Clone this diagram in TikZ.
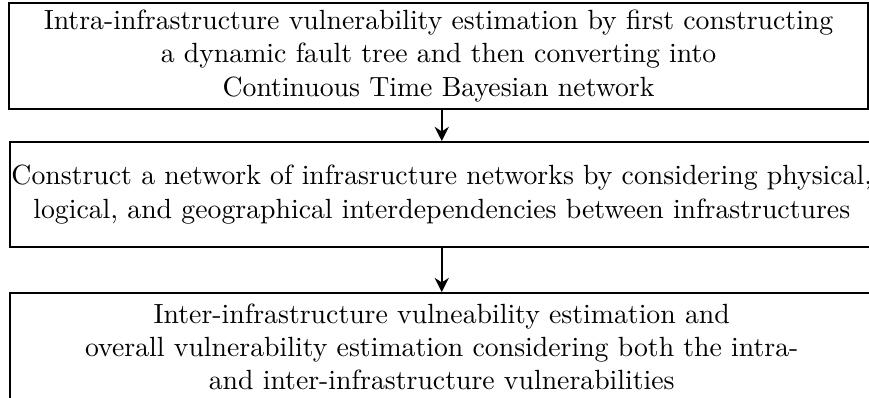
\documentclass[tikz,border=0pt]{standalone}
\usepackage{tikz}
\usetikzlibrary{arrows.meta}

\begin{document}
\begin{tikzpicture}[
    stage/.style = {draw, line width=0.7pt, align=center, inner sep=0pt,
                    font=\fontsize{9.8pt}{11.7pt}\selectfont},
    flow/.style = {-{Stealth[length=5pt,width=5pt]}, line width=0.7pt}
  ]
  % Page size
  \useasboundingbox (0,0) rectangle (10.78,4.93);
  \clip (0,0) rectangle (10.78,4.93);

  % Stage 1 - intra-infrastructure
  \node[stage, minimum width=10.66cm, minimum height=1.315cm] (intra) at (5.44,4.235)
    {Intra-infrastructure vulnerability estimation by first constructing\\
     a dynamic fault tree and then converting into\\
     Continuous Time Bayesian network};

  % Stage 2 - network of networks
  \node[stage, minimum width=10.70cm, minimum height=1.303cm] (netnet) at (5.48,2.517)
    {Construct a network of infrasructure networks by considering physical,\\
     logical, and geographical interdependencies between infrastructures};

  % Stage 3 - inter-infrastructure
  \node[stage, minimum width=10.70cm, minimum height=1.34cm] (inter) at (5.48,0.625)
    {Inter-infrastructure vulneability estimation and\\
     overall vulnerability estimation considering both the intra-\\
     and inter-infrastructure vulnerabilities};

  % Arrows
  \draw[flow] (intra.south -| netnet.north) -- (netnet.north);
  \draw[flow] (netnet.south) -- (inter.north);
\end{tikzpicture}
\end{document}
